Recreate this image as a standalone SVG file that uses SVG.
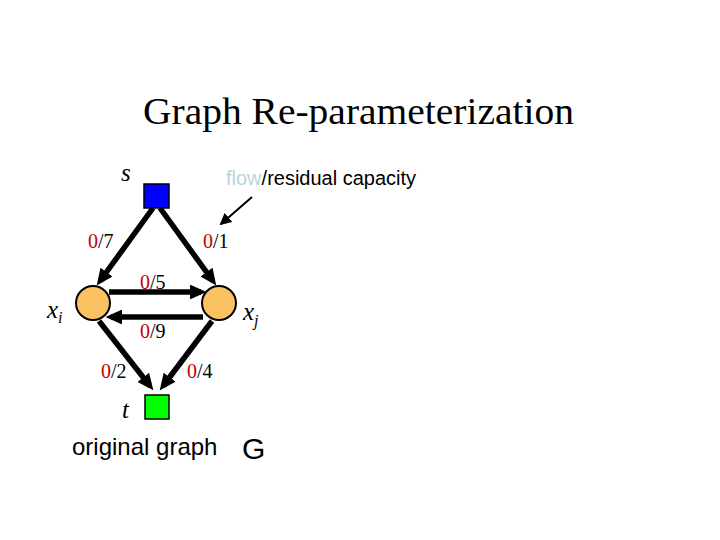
<svg xmlns="http://www.w3.org/2000/svg" width="720" height="540" viewBox="0 0 720 540">
<style>
.title{font-family:"Liberation Serif","Times New Roman",serif;font-size:37px;fill:#000}
.lbl{font-family:"Liberation Serif","Times New Roman",serif;font-size:20px;fill:#000}
.z{fill:#C00000}
.var{font-family:"Liberation Serif","Times New Roman",serif;font-style:italic;font-size:25px;fill:#000}
.sub{font-size:16px}
.sans{font-family:"Liberation Sans",Arial,sans-serif;fill:#000}
.edge{stroke:#000;stroke-width:5.5;fill:none;marker-end:url(#ah)}
.thin{stroke:#000;stroke-width:2;fill:none;marker-end:url(#ah2)}
.node-c{fill:#F9C162;stroke:#000;stroke-width:2}
</style>
<defs>
<marker id="ah" markerWidth="3" markerHeight="2.7" refX="2" refY="1.35" orient="auto" markerUnits="strokeWidth">
<path d="M0,0 L3,1.35 L0,2.7 z" fill="#000"/>
</marker>
<marker id="ah2" markerWidth="6" markerHeight="6" refX="5" refY="3" orient="auto" markerUnits="strokeWidth">
<path d="M0,0 L6,3 L0,6 z" fill="#000"/>
</marker>
</defs>
<rect width="720" height="540" fill="#fff"/>
<text class="title" x="143" y="124" textLength="431" lengthAdjust="spacingAndGlyphs">Graph Re-parameterization</text>

<g id="connectors">
<line class="edge" x1="153" y1="208" x2="100" y2="281"/>
<line class="edge" x1="160" y1="208" x2="213" y2="281"/>
<line class="edge" x1="109" y1="292" x2="201" y2="292"/>
<line class="edge" x1="203" y1="317" x2="111" y2="317"/>
<line class="edge" x1="99" y1="321" x2="150" y2="386"/>
<line class="edge" x1="212" y1="321" x2="163" y2="386"/>
<line class="thin" x1="252" y1="197" x2="221" y2="224"/>
</g>

<g id="s">
<rect x="144" y="184" width="25" height="24" fill="#0000FF" stroke="#000" stroke-width="1.5"/>
<text class="var" x="121" y="181">s</text>
</g>
<g id="xi">
<circle class="node-c" cx="93" cy="303" r="17"/>
<text class="var" x="47" y="318">x<tspan class="sub" dy="5">i</tspan></text>
</g>
<g id="xj">
<circle class="node-c" cx="219" cy="303" r="17"/>
<text class="var" x="243" y="320">x<tspan class="sub" dy="6">j</tspan></text>
</g>
<g id="t">
<rect x="145" y="395" width="24" height="24" fill="#00FF00" stroke="#000" stroke-width="1.5"/>
<text class="var" x="122" y="418">t</text>
</g>

<g id="labels">
<text class="lbl" x="88" y="248"><tspan class="z">0</tspan>/7</text>
<text class="lbl" x="203" y="248"><tspan class="z">0</tspan>/1</text>
<text class="lbl" x="140" y="289"><tspan class="z">0</tspan>/5</text>
<text class="lbl" x="140" y="338"><tspan class="z">0</tspan>/9</text>
<text class="lbl" x="101" y="378"><tspan class="z">0</tspan>/2</text>
<text class="lbl" x="187" y="378"><tspan class="z">0</tspan>/4</text>
</g>

<text class="sans" x="226" y="185" font-size="20"><tspan fill="#B8D4DC">flow</tspan>/residual capacity</text>
<text class="sans" x="72" y="455" font-size="24">original graph</text>
<text class="sans" x="242" y="459" font-size="30">G</text>
</svg>
